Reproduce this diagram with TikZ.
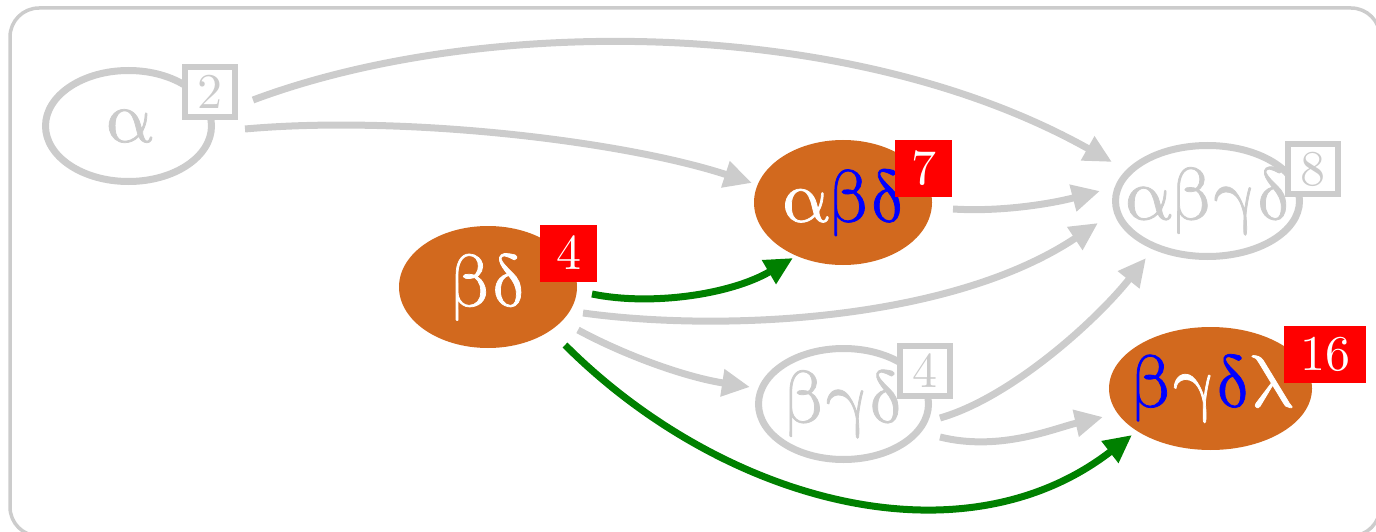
\documentclass[tikz,border=0pt]{standalone}
\usepackage{fontspec}
% upright Greek, slightly emboldened to suit the large size
\newfontfamily\gk{latinmodern-math.otf}[FakeBold=1]
\newfontfamily\costfont{lmroman10-regular.otf}
\usetikzlibrary{shapes.geometric,arrows.meta}
\definecolor{fadedgray}{HTML}{CCCCCC}
\definecolor{choc}{HTML}{D2691E}
\definecolor{pickgreen}{HTML}{008000}
% keep the set label from widening the ellipse
\newcommand\zerowide[1]{\makebox[0pt]{#1}}

\begin{document}
\begin{tikzpicture}[x=1pt,y=-1pt,
  setnode/.style={ellipse, inner sep=0pt, font=\gk\fontsize{74}{74}\selectfont},
  faded/.style={setnode, draw=fadedgray, line width=7pt, text=fadedgray, fill=white},
  chosen/.style={setnode, fill=choc, text=white},
  costbox/.style={rectangle, inner sep=0pt, font=\costfont\fontsize{50}{50}\selectfont},
  fadedcost/.style={costbox, draw=fadedgray, line width=6pt, fill=white, text=fadedgray,
    minimum width=50pt, minimum height=50pt},
  chosencost/.style={costbox, fill=red, text=white, inner xsep=16pt,
    minimum width=57pt, minimum height=57pt},
  link/.style={line width=7pt, draw=fadedgray, -{Triangle[length=28pt,width=26pt]}},
  pick/.style={link, draw=pickgreen}
]
\useasboundingbox (0,0) rectangle (1376,532);

% outer frame
\draw[fadedgray, line width=3.5pt, rounded corners=29pt] (10,8) rectangle (1380,536);

% sets
\node[faded, minimum width=166pt, minimum height=111pt] (a) at (128.5,126) {\zerowide{α}};
\node[chosen, minimum width=178pt, minimum height=122pt] (bd) at (488,287) {\zerowide{βδ}};
\node[chosen, minimum width=178pt, minimum height=125pt] (abd) at (843,202.5)
  {\zerowide{α\textcolor{blue}{βδ}}};
\node[faded, minimum width=184pt, minimum height=111pt] (abgd) at (1207.5,201) {\zerowide{αβγδ}};
\node[faded, minimum width=170pt, minimum height=111pt] (bgd) at (843.5,404) {\zerowide{βγδ}};
\node[chosen, minimum width=203pt, minimum height=123pt] (bgdl) at (1210.5,388.5)
  {\zerowide{\textcolor{blue}{β}γ\textcolor{blue}{δ}λ}};

% costs
\node[fadedcost] (ca) at (209.5,92) {2};
\node[chosencost] (cbd) at (568.5,253) {4};
\node[chosencost] (cabd) at (923.5,168.5) {7};
\node[fadedcost] (cabgd) at (1313,169) {8};
\node[fadedcost] (cbgd) at (925,370.5) {4};
\node[chosencost] (cbgdl) at (1325,354.5) {16};

% faded links
\draw[link] ([shift={(43.5,8)}]ca.center) .. controls +(227,-85) and +(-262,-147) .. ([shift={(-95.5,-39)}]abgd.center);
\draw[link] ([shift={(116.5,3)}]a.center) .. controls +(155,-14) and +(-132,-43) .. ([shift={(-91,-19.5)}]abd.center);
\draw[link] ([shift={(110,6.5)}]abd.center) .. controls +(47,3) and +(-50,13) .. ([shift={(-107.5,-10)}]abgd.center);
\draw[link] ([shift={(95,26)}]bd.center) .. controls +(137,19) and +(-148,99) .. ([shift={(-109.5,22)}]abgd.center);
\draw[link] ([shift={(90,43)}]bd.center) .. controls +(52,28) and +(-60,-9) .. ([shift={(-93.5,-17)}]bgd.center);
\draw[link] ([shift={(96.5,14)}]bgd.center) .. controls +(70,-20) and +(-51,64) .. ([shift={(-61.5,57)}]abgd.center);
\draw[link] ([shift={(96.5,33)}]bgd.center) .. controls +(60,15) and +(-48,11) .. ([shift={(-107.5,28.5)}]bgdl.center);

% chosen links
\draw[pick] ([shift={(104,7)}]bd.center) .. controls +(58,12) and +(-63,37) .. ([shift={(-50,55.5)}]abd.center);
\draw[pick] ([shift={(77,58)}]bd.center) .. controls +(155,155) and +(-172,133) .. ([shift={(-78.5,46.5)}]bgdl.center);
\end{tikzpicture}
\end{document}
